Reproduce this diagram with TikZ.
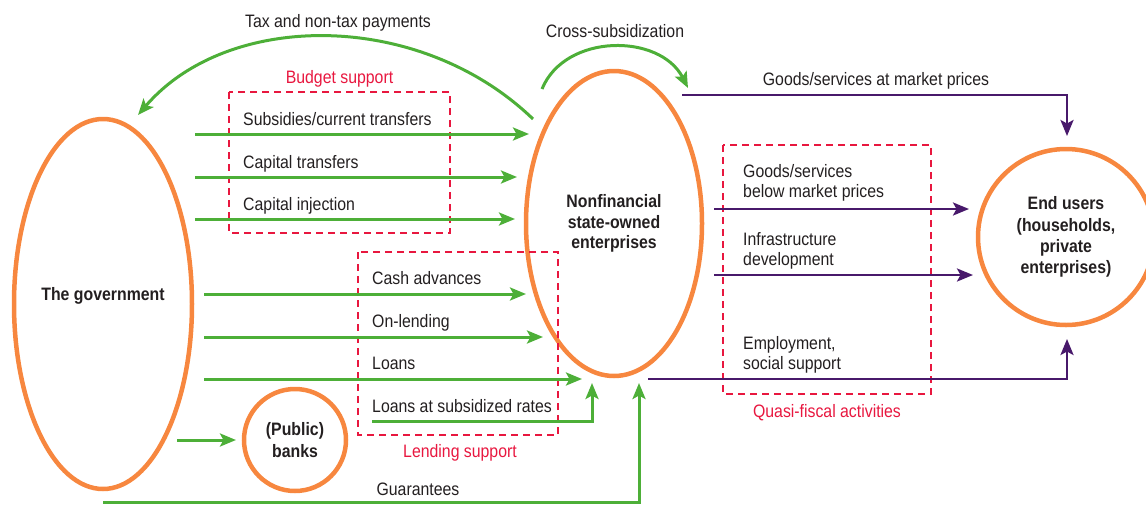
\documentclass[tikz,border=0pt]{standalone}
\usepackage{fontspec}
\setmainfont{Liberation Sans}[FakeStretch=0.88]
\usetikzlibrary{shapes.geometric,arrows.meta}
\definecolor{orng}{HTML}{F7873F}
\definecolor{grn}{HTML}{4DAF38}
\definecolor{purp}{HTML}{48196B}
\definecolor{redd}{HTML}{E8173F}
\definecolor{txt}{HTML}{231F20}
\begin{document}
\begin{tikzpicture}[x=1pt,y=-1pt,
  font=\fontsize{18}{20.5}\selectfont, text=txt,
  oval/.style={ellipse, draw=orng, line width=4.5pt, inner sep=0pt, align=center},
  tip/.style={-{Stealth[length=16pt,width=13pt,inset=3.5pt]}},
  garrow/.style={draw=grn, line width=3pt, tip},
  parrow/.style={draw=purp, line width=2.6pt, tip},
  dbox/.style={draw=redd, line width=2pt, dash pattern=on 7pt off 5pt},
  lbl/.style={inner sep=0pt, anchor=base west},
  clbl/.style={inner sep=0pt, anchor=base},
  rlbl/.style={inner sep=0pt, anchor=base, text=redd},
  bold/.style={font=\fontsize{18}{20.5}\selectfont\bfseries},
  qlbl/.style={inner sep=0pt, anchor=north west, align=left}
]
\useasboundingbox (0,0) rectangle (1146,504);

% main ovals
\node[oval, minimum width=178pt, minimum height=370pt] (gov) at (103,304) {};
\node[inner sep=0pt, anchor=base, bold] (govt) at (103,300) {The government};
\node[oval, bold, minimum width=102pt, minimum height=102pt, font=\fontsize{18}{22}\selectfont\bfseries] (banks) at (295,440) {(Public)\\banks};
\node[oval, bold, minimum width=176pt, minimum height=305pt] (soe) at (614,223.5) {Nonfinancial\\state-owned\\enterprises};
\node[oval, minimum width=176pt, minimum height=176pt, font=\fontsize{18}{21.3}\selectfont\bfseries] (users) at (1066,237) {End users\\(households,\\private\\enterprises)};

% dashed boxes
\draw[dbox] (229,92) rectangle (450,233);
\node[rlbl] (budget) at (339.5,83) {Budget support};
\draw[dbox] (358,252) rectangle (558,435);
\node[rlbl] (lending) at (460,457) {Lending support};
\draw[dbox] (723,145) rectangle (931,394);
\node[rlbl] (quasi) at (827,417) {Quasi-fiscal activities};

% top arcs
\coordinate (taxs) at (533,119);
\coordinate (taxe) at (138,115);
\draw[garrow] (taxs) .. controls (420,10) and (228,10) .. (taxe);
\node[clbl] (taxl) at (338,27) {Tax and non-tax payments};
\coordinate (crs) at (542,89);
\coordinate (cre) at (688,88);
\draw[garrow] (crs) .. controls (565,33) and (660,33) .. (cre);
\node[clbl] (crl) at (615,37) {Cross-subsidization};

% budget support arrows
\coordinate (b1s) at (195,134); \coordinate (b1e) at (529,134);
\coordinate (b2s) at (195,177); \coordinate (b2e) at (517,177);
\coordinate (b3s) at (195,219); \coordinate (b3e) at (515,219);
\draw[garrow] (b1s) -- (b1e);
\draw[garrow] (b2s) -- (b2e);
\draw[garrow] (b3s) -- (b3e);
\node[lbl] (b1l) at (243,125) {Subsidies/current transfers};
\node[lbl] (b2l) at (243,168) {Capital transfers};
\node[lbl] (b3l) at (243,210) {Capital injection};

% lending support arrows
\coordinate (l1s) at (204,294); \coordinate (l1e) at (526,294);
\coordinate (l2s) at (204,337); \coordinate (l2e) at (543,337);
\coordinate (l3s) at (204,379); \coordinate (l3e) at (582,379);
\coordinate (l4s) at (372,421); \coordinate (l4e) at (592,383);
\draw[garrow] (l1s) -- (l1e);
\draw[garrow] (l2s) -- (l2e);
\draw[garrow] (l3s) -- (l3e);
\draw[garrow] (l4s) -| (l4e);
\node[lbl] (l1l) at (372,284) {Cash advances};
\node[lbl] (l2l) at (372,327) {On-lending};
\node[lbl] (l3l) at (372,369) {Loans};
\node[lbl] (l4l) at (372,412) {Loans at subsidized rates};

% government to banks
\coordinate (gbs) at (177,440); \coordinate (gbe) at (236,440);
\draw[garrow] (gbs) -- (gbe);

% guarantees
\coordinate (gs) at (103,502.5); \coordinate (ge) at (639,383);
\draw[garrow] (gs) -| (ge);
\node[clbl] (gl) at (418,495) {Guarantees};

% purple flows
\coordinate (m1s) at (682,95); \coordinate (m1e) at (1067,136);
\draw[parrow] (m1s) -| (m1e);
\node[clbl] (m1l) at (876,85) {Goods/services at market prices};
\coordinate (q1s) at (714,209); \coordinate (q1e) at (969,209);
\coordinate (q2s) at (714,275); \coordinate (q2e) at (973,275);
\coordinate (q3s) at (648,379); \coordinate (q3e) at (1067,339);
\draw[parrow] (q1s) -- (q1e);
\draw[parrow] (q2s) -- (q2e);
\draw[parrow] (q3s) -| (q3e);
\node[qlbl] (q1l) at (743,164) {Goods/services\\below market prices};
\node[qlbl] (q2l) at (743,232) {Infrastructure\\development};
\node[qlbl] (q3l) at (743,336) {Employment,\\social support};
\end{tikzpicture}
\end{document}
